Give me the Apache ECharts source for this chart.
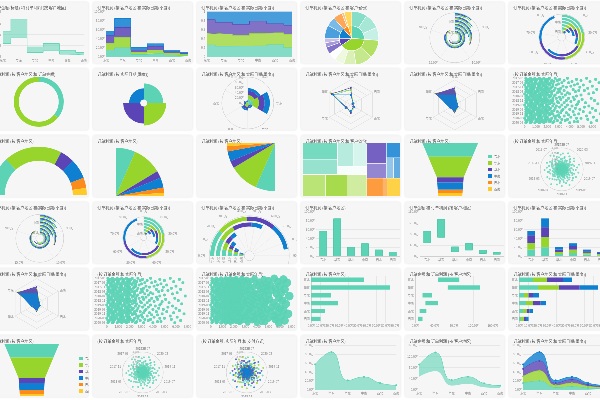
<!DOCTYPE html>
<html><head><meta charset="utf-8">
<script src="https://cdn.jsdelivr.net/npm/echarts@6/dist/echarts.min.js"></script>
<style>
html,body{margin:0;padding:0;background:#fff;width:600px;height:400px;overflow:hidden}
#wrap{position:absolute;left:0;top:0;width:1200px;height:800px;transform:scale(0.5);transform-origin:0 0}
.card{position:absolute;width:202px;height:126px;background:#f6f6f6;border:1px solid #ececec;border-radius:6px;box-sizing:border-box;overflow:hidden}
</style></head>
<body><div id="wrap"></div>
<script>
// ---------------- data ----------------
const regions = ['东北','华东','华北','中南','西北','西南'];
const profit = [57, 85, 21, 29, 15, 10];
const quarters = ['第1季度','第2季度','第3季度','第4季度'];
const profitQ1 = [15, 20, 5, 7, 4, 2];
const profitQ2 = [15, 23, 5, 8, 4, 3];
const profitQ3 = [17, 22, 5, 8, 3, 2];
const profitQ4 = [10, 20, 6, 6, 4, 3];
const rangeLow = [47, 67, 15, 21, 9, 6];
const rangeHigh = [91, 134, 35, 47, 23, 15];
const provinceNames = [['辽宁','黑龙江','吉林'],['山东','江苏','浙江','安徽','上海'],['河北','北京','山西'],['广东','河南'],['陕西','甘肃'],['四川']];
const provinceProfit = [[20,20,17],[24,22,16,13,10],[9,6,6],[17,12],[12,3],[10]];
const donutNames = ['个人','公司'];
const donutValues = [36, 64];
const roseValues = [49, 58, 52, 34];
const payMethods = ['现金','信用卡','支付宝','微信'];
const months = ['2017-03','2017-04','2017-05','2017-06','2017-07','2017-08','2017-09','2017-10','2017-11','2017-12',
'2018-01','2018-02','2018-03','2018-04','2018-05','2018-06','2018-07','2018-08','2018-09','2018-10','2018-11','2018-12',
'2019-01','2019-02','2019-03','2019-04','2019-05','2019-06','2019-07','2019-08','2019-09','2019-10','2019-11','2019-12',
'2020-01','2020-02','2020-03','2020-04','2020-05','2020-06','2020-07'];
// order amounts per month, in hundreds
const orderAmountRows = [
'1 5 9 13 17 22 27 38 55','3 7 11 15 19 21 31 46 63','1 5 9 14 18 24 29 35 50','2 6 10 15 19 20 26 42 58',
'1 4 9 13 17 23 33 39 66','3 7 11 15 19 21 25 30 47','0 5 9 13 17 22 28 44 52','3 7 12 16 19 25 34 41 60',
'1 5 9 13 18 20 24 37 49','2 7 11 15 19 23 27 32 56','1 5 8 13 17 21 30 43 64','3 6 11 15 19 26 35 48 53',
'1 5 9 12 17 22 24 31 45','3 7 10 15 19 20 29 38 61','0 5 9 13 17 24 33 40 57','2 7 11 15 19 21 27 36 50',
'1 5 9 13 17 23 26 46 68','3 7 11 14 19 22 31 34 43','1 4 9 13 17 25 28 39 59','3 7 11 15 18 20 32 44 51',
'1 5 9 13 17 23 25 37 62','2 6 11 15 19 21 29 41 48','1 5 9 12 17 24 30 35 54','3 7 11 15 19 22 26 47 65',
'0 5 9 13 16 20 33 38 46','3 7 10 15 19 25 28 42 57','1 5 9 13 17 21 31 36 53','2 7 11 16 19 23 27 45 60',
'1 4 9 13 18 22 34 40 49','3 7 11 15 19 20 26 33 63','1 5 8 13 17 24 29 43 52','3 6 11 15 19 21 32 37 58',
'1 5 9 13 17 23 25 48 67','2 7 11 14 19 22 30 39 44','1 5 9 13 17 26 28 35 55','3 7 12 15 19 20 31 41 61',
'0 5 9 13 18 24 27 46 50','3 7 11 15 19 21 33 38 56','1 5 10 13 17 23 29 36 64','2 6 11 15 19 22 26 44 47',
'1 5 9 13 17 25 32 40 59'];
const payCodeRows = [
'031201320','120331021','203112302','310220131','021330212','132001323','203123010','312030201','013221302','120303112',
'231010230','302121013','013202331','121330120','230111302','302223011','021130213','130302120','213021301','320113032',
'012331201','103220313','231002130','320131023','021203312','132310201','203021132','310132003','021310221','132203310',
'203112023','310021132','023130201','131202310','200313021','312020113','023101332','130223001','201332310','312001223','023112130'];

// ---------------- style helpers ----------------
const C = ['#5dd3b5','#97d52d','#5b45b6','#0f7fd1','#fb8b1d','#fdca27'];
const FF = '"Noto Sans CJK SC","Noto Sans",sans-serif';
function tint(hex, t){ const n=parseInt(hex.slice(1),16); const r=n>>16,g=(n>>8)&255,b=n&255; const m=x=>Math.round(x+(255-x)*t); return 'rgb('+m(r)+','+m(g)+','+m(b)+')'; }
const T = t => ({text:t,left:4,top:3,textStyle:{fontSize:8,fontWeight:'normal',color:'#555',fontFamily:FF}});
const LBL = {fontSize:6,color:'#888',fontFamily:FF};
const wan = v => (+v).toFixed(1)+'万';
function xCat(gap){ return {type:'category',data:regions,boundaryGap:gap,axisLine:{lineStyle:{color:'#cfcfcf'}},axisTick:{show:false},axisLabel:Object.assign({},LBL,{margin:4,interval:0})}; }
function yCat(){ return {type:'category',data:regions,inverse:true,axisLine:{lineStyle:{color:'#cfcfcf'}},axisTick:{show:false},axisLabel:Object.assign({},LBL,{margin:3})}; }
function vAx(max,itv,fmt){ return {type:'value',min:0,max:max,interval:itv,axisLabel:Object.assign({},LBL,{margin:3,formatter:fmt||wan}),splitLine:{lineStyle:{color:'#e6e6e6'}},axisLine:{show:false},axisTick:{show:false}}; }
const Q = [profitQ1, profitQ2, profitQ3, profitQ4];
const ascIdx = regions.map((r,i)=>i).sort((a,b)=>profit[a]-profit[b]);

// scatter points: [amount, monthIndex, payCode]
const points = [];
orderAmountRows.forEach((row, mi) => {
  const codes = payCodeRows[mi] || '';
  row.split(' ').forEach((s, k) => points.push([(+s) * 100, mi, +(codes[k] || 0)]));
});

const charts = [];
function add(r, c, opt){ charts.push({r, c, opt}); }

// ---------------- row 1 ----------------
add(0,0,{title:T('订单金额(标题) 和 订单利润 (按 客户地区)'),grid:{left:28,right:10,top:20,bottom:14},xAxis:xCat(false),yAxis:vAx(160,40),
 series:[
  {type:'line',step:'middle',stack:'rg',data:rangeLow,symbol:'none',lineStyle:{color:C[0],width:1}},
  {type:'line',step:'middle',stack:'rg',data:rangeHigh.map((v,i)=>v-rangeLow[i]),symbol:'none',lineStyle:{color:C[0],width:1},areaStyle:{color:C[0],opacity:0.55}}
 ]});
add(0,1,{title:T('订单利润 (按 客户地区 和 实际日期(季度))'),grid:{left:24,right:8,top:20,bottom:14},xAxis:xCat(false),yAxis:vAx(100,20),
 series:Q.map((d,i)=>({type:'line',name:quarters[i],step:'middle',stack:'q',data:d,symbol:'none',lineStyle:{color:C[i],width:1},areaStyle:{color:C[i],opacity:0.85}}))});
add(0,2,{title:T('订单利润 (按 客户地区 和 实际日期(季度))'),grid:{left:20,right:8,top:20,bottom:14},xAxis:xCat(false),yAxis:vAx(1,0.2,v=>String(+v.toFixed(1))),
 series:Q.map((d,i)=>({type:'line',name:quarters[i],step:'middle',stack:'p',data:d.map((v,j)=>v/profit[j]),symbol:'none',lineStyle:{color:C[i],width:1},areaStyle:{color:C[i],opacity:0.75}}))});
add(0,3,{title:T('订单利润 (按 客户地区 和 客户省份)'),
 series:{type:'sunburst',center:['51%','59%'],radius:[0,54],sort:null,startAngle:90,label:{show:false},itemStyle:{borderColor:'#fff',borderWidth:1},
  levels:[{},{r0:0,r:25},{r0:25,r:54}],
  data:regions.map((r,i)=>({name:r,value:profit[i],itemStyle:{color:C[i]},children:provinceNames[i].map((p,j)=>({name:p,value:provinceProfit[i][j],itemStyle:{color:tint(C[i],0.25+0.2*j)}}))}))}});
// grouped radial bars (regions in data order, quarters side by side)
function polarGrouped(r,c,center,rad){
 add(r,c,{title:T('订单利润 (按 客户地区 和 实际日期(季度))'),polar:{center:center,radius:rad},
  angleAxis:{type:'value',min:0,max:25,interval:5,startAngle:90,axisLine:{lineStyle:{color:'#d0d0d0'}},axisTick:{show:false},axisLabel:Object.assign({},LBL,{formatter:wan}),splitLine:{lineStyle:{color:'#ebebeb'}}},
  radiusAxis:{type:'category',data:regions,axisLine:{show:false},axisTick:{show:false},axisLabel:Object.assign({},LBL,{margin:2}),z:10},
  series:Q.map((d,i)=>({type:'bar',coordinateSystem:'polar',name:quarters[i],data:d,barGap:'0%',barCategoryGap:'22%',itemStyle:{color:C[i]}}))});
}
// stacked radial bars (regions sorted ascending, largest outside)
function polarStacked(r,c,center,rad,half){
 const ang = {type:'value',min:0,max:90,interval:10,startAngle:half?180:90,axisLine:{lineStyle:{color:'#d0d0d0'}},axisTick:{show:false},axisLabel:Object.assign({},LBL,{formatter:wan}),splitLine:{lineStyle:{color:'#ebebeb'}}};
 if(half) ang.endAngle = 0;
 add(r,c,{title:T('订单利润 (按 客户地区 和 实际日期(季度))'),polar:{center:center,radius:rad},angleAxis:ang,
  radiusAxis:{type:'category',data:ascIdx.map(i=>regions[i]),axisLine:{show:false},axisTick:{show:false},axisLabel:Object.assign({},LBL,{margin:2,rotate:half?90:0}),z:10},
  series:Q.map((d,i)=>({type:'bar',coordinateSystem:'polar',name:quarters[i],stack:'a',data:ascIdx.map(j=>d[j]),barCategoryGap:'30%',itemStyle:{color:C[i]}}))});
}
polarGrouped(0,4,['50%','58%'],[8,50]);
polarStacked(0,5,['53%','57%'],[8,46],false);

// ---------------- row 2 ----------------
add(1,0,{title:T('订单利润 (按 客户地区 和 订单金额)'),series:{type:'pie',center:['50%','54%'],radius:[40,50],startAngle:90,label:{show:false},
 data:donutNames.map((n,i)=>({name:n,value:donutValues[i],itemStyle:{color:C[i]}}))}});
add(1,1,{title:T('订单利润 (按 实际日期(季度))'),series:{type:'pie',roseType:'area',center:['51%','56%'],radius:[7,45],startAngle:90,label:{show:false},
 data:quarters.map((n,i)=>({name:n,value:roseValues[i],itemStyle:{color:C[i]}}))}});
add(1,2,{title:T('订单利润 (按 客户地区 和 实际日期(季度))'),polar:{center:['51%','56%'],radius:[0,52]},
 angleAxis:{type:'category',data:regions,startAngle:90,axisLine:{lineStyle:{color:'#d0d0d0'}},axisTick:{show:false},axisLabel:Object.assign({},LBL,{margin:5}),splitLine:{show:true,lineStyle:{color:'#e8e8e8'}}},
 radiusAxis:{type:'value',min:0,max:100,interval:20,axisLine:{show:false},axisTick:{show:false},axisLabel:Object.assign({},LBL,{formatter:wan}),splitLine:{show:false},z:10},
 series:Q.map((d,i)=>({type:'bar',coordinateSystem:'polar',stack:'a',data:d,barCategoryGap:'0%',itemStyle:{color:C[i]}}))});
function radar(r,c,center,rad,filled){
 add(r,c,{title:T('订单利润 (按 客户地区 和 实际日期(季度))'),
  radar:{center:center,radius:rad,indicator:regions.map(n=>({name:n,max:25})),startAngle:90,splitNumber:4,
   axisName:{color:'#888',fontSize:6,fontFamily:FF},nameGap:3,splitArea:{show:false},splitLine:{lineStyle:{color:'#ddd'}},axisLine:{lineStyle:{color:'#ddd'}}},
  series:[{type:'radar',symbol:'circle',symbolSize:filled?2:4,
   data:Q.map((d,i)=>({name:quarters[i],value:d,itemStyle:{color:C[i]},lineStyle:{color:C[i],width:1},areaStyle:filled?{color:C[i],opacity:0.9}:undefined}))}]});
}
radar(1,3,['50%','59%'],50,false);
radar(1,4,['50%','59%'],50,true);
function scatterCart(r,c,title,left,right,sizeFn){
 add(r,c,{title:T(title),grid:{left:left,right:right,top:19,bottom:14},
  xAxis:{type:'value',min:0,max:7000,interval:1000,axisLine:{lineStyle:{color:'#cfcfcf'}},axisTick:{show:false},axisLabel:Object.assign({},LBL,{margin:4}),splitLine:{show:false}},
  yAxis:{type:'category',data:months,inverse:true,axisLine:{lineStyle:{color:'#cfcfcf'}},axisTick:{show:false},axisLabel:Object.assign({},LBL,{interval:3,margin:3}),splitLine:{show:false}},
  series:[{type:'scatter',data:points.map(p=>[p[0],p[1]]),symbolSize:sizeFn,itemStyle:{color:C[0],opacity:0.95}}]});
}
scatterCart(1,5,'(按 订单金额 和 实际年月)',32,6,6);

// ---------------- row 3 ----------------
add(2,0,{title:T('订单利润 (按 客户地区)'),series:{type:'pie',center:[100,119],radius:[68,96],startAngle:180,endAngle:0,label:{show:false},
 data:regions.map((n,i)=>({name:n,value:profit[i],itemStyle:{color:C[i]}}))}});
add(2,1,{title:T('订单利润 (按 客户地区)'),series:{type:'pie',center:[46,122],radius:[0,97],startAngle:90,endAngle:0,label:{show:false},
 data:regions.map((n,i)=>({name:n,value:profit[i],itemStyle:{color:C[i]}}))}});
add(2,2,{title:T('订单利润 (按 客户地区)'),series:{type:'pie',center:[157,15],radius:[0,97],startAngle:270,endAngle:180,label:{show:false},
 data:regions.map((n,i)=>({name:n,value:profit[i],itemStyle:{color:C[i]}}))}});
(function(){
 const order = regions.map((r,i)=>i).sort((a,b)=>profit[b]-profit[a]);
 add(2,3,{title:T('订单利润 (按 客户地区 和 客户省份)'),series:{type:'treemap',left:5,right:1,top:15,bottom:3,roam:false,nodeClick:false,
  breadcrumb:{show:false},label:{show:false},upperLabel:{show:false},itemStyle:{borderColor:'#fff',borderWidth:0,gapWidth:1},
  levels:[{itemStyle:{gapWidth:1,borderWidth:0}},{itemStyle:{gapWidth:1,borderWidth:0}}],
  data:order.map((i,k)=>({name:regions[i],value:profit[i],children:provinceNames[i].map((p,j)=>({name:p,value:provinceProfit[i][j],itemStyle:{color:tint(C[k],0.15+0.2*j)}}))}))}});
})();
function funnel(r,c,grid,legendPos){
 const total = profit.reduce((a,b)=>a+b,0);
 const starts = []; let acc = 0; profit.forEach(v=>{starts.push(acc); acc+=v;});
 const hw = f => f < 0.65 ? 1 - 0.8*f : 0.48 - 0.14*(f-0.65);
 add(r,c,{title:T('订单利润 (按 客户地区)'),grid:grid,
  legend:Object.assign({orient:'vertical',icon:'rect',itemWidth:7,itemHeight:7,itemGap:6,textStyle:{fontSize:6,color:'#666',fontFamily:FF},data:regions},legendPos),
  xAxis:{type:'value',min:-1,max:1,show:false},yAxis:{type:'value',min:0,max:total,inverse:true,show:false},
  series:regions.map((n,i)=>({type:'custom',name:n,itemStyle:{color:C[i]},data:[[starts[i],starts[i]+profit[i]]],
   renderItem:(params,api)=>{
    const a=api.value(0), b=api.value(1);
    const fs=[a/total]; if(a/total<0.65 && b/total>0.65) fs.push(0.65); fs.push(b/total);
    const L=fs.map(f=>api.coord([-hw(f),f*total])), R=fs.map(f=>api.coord([hw(f),f*total])).reverse();
    return {type:'polygon',shape:{points:L.concat(R)},style:{fill:C[i]}};
   }}))});
}
funnel(2,4,{left:35,right:53,top:15,bottom:3},{right:4,top:34});
function scatterPolar(r,c,title,center,rad,colored){
 const base = {title:T(title),polar:{center:center,radius:[0,rad]},
  angleAxis:{type:'category',data:months,startAngle:90,clockwise:false,axisLine:{lineStyle:{color:'#d0d0d0'}},axisTick:{show:false},axisLabel:Object.assign({},LBL,{interval:3,margin:4}),splitLine:{show:false}},
  radiusAxis:{type:'value',min:0,max:8000,axisLine:{show:false},axisTick:{show:false},axisLabel:Object.assign({},LBL,{fontSize:5,color:'#999'}),splitLine:{show:false},z:10}};
 if(!colored){ base.series=[{type:'scatter',coordinateSystem:'polar',symbolSize:4,data:points.map(p=>[p[0],p[1]]),itemStyle:{color:C[0]}}]; }
 else { base.series=payMethods.map((m,k)=>({type:'scatter',coordinateSystem:'polar',name:m,symbolSize:4,data:points.filter(p=>p[2]===k).map(p=>[p[0],p[1]]),itemStyle:{color:C[k]}})); }
 add(r,c,base);
}
scatterPolar(2,5,'(按 订单金额 和 实际年月)',['53%','55%'],43,false);

// ---------------- row 4 ----------------
polarGrouped(3,0,['51%','59%'],[8,48]);
polarStacked(3,1,['51%','58%'],[6,42],false);
polarStacked(3,2,[105,108],[10,80],true);
add(3,3,{title:T('订单利润 (按 客户地区)'),grid:{left:31,right:2,top:20,bottom:15},xAxis:xCat(true),yAxis:vAx(100,20),
 series:[{type:'bar',data:profit,barWidth:'55%',itemStyle:{color:C[0],borderColor:'#4cc5a6',borderWidth:1}}]});
add(3,4,{title:T('订单金额 和 订单利润 (按 客户地区)'),grid:{left:31,right:2,top:20,bottom:15},xAxis:xCat(true),yAxis:vAx(160,40),
 series:[{type:'bar',stack:'f',data:rangeLow,itemStyle:{color:'transparent'},barWidth:'55%'},
  {type:'bar',stack:'f',data:rangeHigh.map((v,i)=>v-rangeLow[i]),barWidth:'55%',itemStyle:{color:C[0],borderColor:'#4cc5a6',borderWidth:1}}]});
add(3,5,{title:T('订单利润 (按 客户地区 和 实际日期(季度))'),grid:{left:31,right:2,top:20,bottom:15},xAxis:xCat(true),yAxis:vAx(100,20),
 series:Q.map((d,i)=>({type:'bar',stack:'s',data:d,barWidth:'55%',itemStyle:{color:C[i]}}))});

// ---------------- row 5 ----------------
radar(4,0,['48%','57%'],50,true);
scatterCart(4,1,'(按 订单金额 和 实际年月)',28,10,6);
scatterCart(4,2,'订单利润 (按 订单金额 和 实际年月)',28,10,v=>6+v[0]/7000*12);
add(4,3,{title:T('订单利润 (按 客户地区)'),grid:{left:21,right:9,top:15,bottom:15},yAxis:yCat(),xAxis:vAx(90,10),
 series:[{type:'bar',data:profit,barWidth:'55%',itemStyle:{color:C[0]}}]});
add(4,4,{title:T('订单金额 和 订单利润 (按 客户地区)'),grid:{left:21,right:24,top:15,bottom:15},yAxis:yCat(),xAxis:vAx(160,40),
 series:[{type:'bar',stack:'f',data:rangeLow,itemStyle:{color:'transparent'},barWidth:'55%'},
  {type:'bar',stack:'f',data:rangeHigh.map((v,i)=>v-rangeLow[i]),barWidth:'55%',itemStyle:{color:C[0]}}]});
add(4,5,{title:T('订单利润 (按 客户地区 和 实际日期(季度))'),grid:{left:21,right:2,top:15,bottom:15},yAxis:yCat(),xAxis:vAx(90,10),
 series:Q.map((d,i)=>({type:'bar',stack:'s',data:d,barWidth:'55%',itemStyle:{color:C[i]}}))});

// ---------------- row 6 ----------------
funnel(5,0,{left:31,right:59,top:17,bottom:2},{left:176,top:38});
scatterPolar(5,1,'(按 订单金额 和 实际年月)',['50%','60%'],41,false);
scatterPolar(5,2,'(按 订单金额, 实际年月 和 支付方式)',['50%','60%'],41,true);
add(5,3,{title:T('订单利润 (按 客户地区)'),grid:{left:29,right:5,top:20,bottom:15},xAxis:xCat(false),yAxis:vAx(100,20),
 series:[{type:'line',smooth:true,data:profit,symbol:'circle',symbolSize:4,itemStyle:{color:C[0]},lineStyle:{color:C[0],width:1},areaStyle:{color:C[0],opacity:0.6}}]});
add(5,4,{title:T('订单金额 和 订单利润 (按 客户地区)'),grid:{left:29,right:5,top:20,bottom:15},xAxis:xCat(false),yAxis:vAx(160,40),
 series:[{type:'line',smooth:true,stack:'rg',data:rangeLow,symbol:'none',lineStyle:{opacity:0}},
  {type:'line',smooth:true,stack:'rg',data:rangeHigh.map((v,i)=>v-rangeLow[i]),symbol:'circle',symbolSize:4,itemStyle:{color:C[0]},lineStyle:{color:C[0],width:1},areaStyle:{color:C[0],opacity:0.6}}]});
add(5,5,{title:T('订单利润 (按 客户地区 和 实际日期(季度))'),grid:{left:29,right:5,top:20,bottom:15},xAxis:xCat(false),yAxis:vAx(100,20),
 series:Q.map((d,i)=>({type:'line',smooth:true,stack:'s',data:d,symbol:'circle',symbolSize:4,itemStyle:{color:C[i]},lineStyle:{color:C[i],width:1},areaStyle:{color:C[i],opacity:0.8}}))});

// ---------------- render ----------------
const wrap = document.getElementById('wrap');
charts.forEach(ch => {
  const d = document.createElement('div');
  d.className = 'card';
  d.style.left = (-24 + 208*ch.c) + 'px';
  d.style.top = (2 + 133.33*ch.r) + 'px';
  wrap.appendChild(d);
  const inner = document.createElement('div');
  inner.style.cssText = 'position:absolute;left:0;top:0;width:200px;height:124px';
  d.appendChild(inner);
  const ec = echarts.init(inner, null, {renderer:'canvas'});
  ch.opt.animation = false;
  ch.opt.textStyle = {fontFamily: FF};
  ec.setOption(ch.opt);
});
</script>
</body></html>
